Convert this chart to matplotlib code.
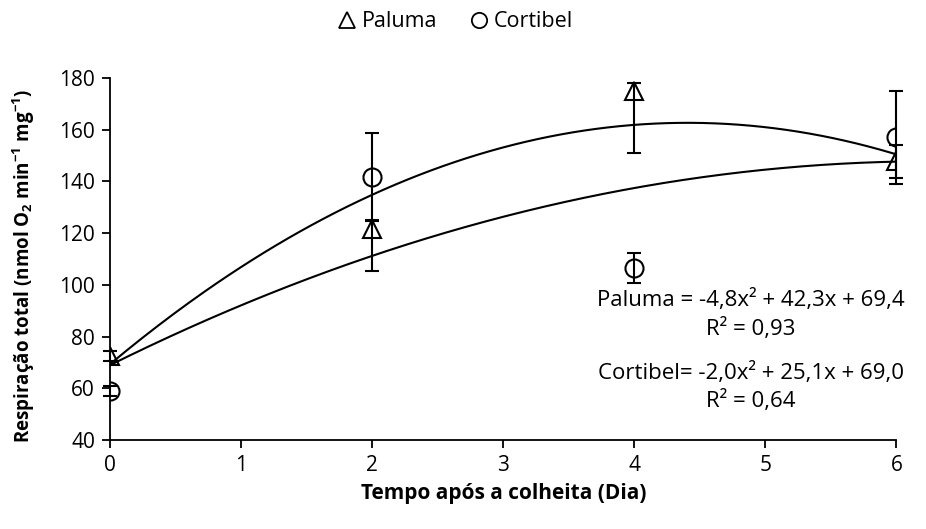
import numpy as np
import matplotlib.pyplot as plt
from matplotlib.lines import Line2D

plt.rcParams['font.family'] = ['Open Sans', 'DejaVu Sans']
plt.rcParams['mathtext.fontset'] = 'custom'
plt.rcParams['mathtext.rm'] = 'Open Sans'
plt.rcParams['mathtext.bf'] = 'Open Sans:bold'

dias = [0, 2, 4, 6]

paluma = [72.5, 121.5, 175.0, 147.7]
paluma_err_baixo = [2.0, 16.0, 24.0, 6.3]
paluma_err_cima = [2.0, 3.5, 3.0, 6.3]

cortibel = [59.0, 141.5, 106.5, 157.0]
cortibel_err = [2.0, 17.0, 5.7, 18.0]

# coeficientes das linhas de tendencia (a, b, c) -> a*x^2 + b*x + c
coef_sup = [-4.8, 42.3, 69.4]
coef_inf = [-2.0, 25.1, 69.0]

fs = 15

fig = plt.figure(figsize=(9.26, 5.29), dpi=100)
ax = fig.add_axes([0.119, 0.168, 0.849, 0.685])

x = np.linspace(0, 6, 200)
ax.plot(x, np.polyval(coef_sup, x), color='black', lw=1.5, zorder=2)
ax.plot(x, np.polyval(coef_inf, x), color='black', lw=1.5, zorder=2)

for y, err, mk in [(paluma, [paluma_err_baixo, paluma_err_cima], '^'),
                   (cortibel, cortibel_err, 'o')]:
    _, caps, bars = ax.errorbar(dias, y, yerr=err, fmt=mk, ms=13,
                                mfc='none', mec='black', mew=1.5, ecolor='black',
                                elinewidth=1.5, capsize=5, capthick=1.5, zorder=3)
    for a in ax.lines[-1:] + list(caps) + list(bars):
        a.set_clip_on(False)

ax.set_xlim(0, 6)
ax.set_ylim(40, 180)
ax.set_xticks(range(0, 7))
ax.set_yticks(range(40, 181, 20))
ax.tick_params(labelsize=fs, width=1.3, length=6, direction='out', pad=5)
ax.spines['top'].set_visible(False)
ax.spines['right'].set_visible(False)
ax.spines['left'].set_linewidth(1.3)
ax.spines['bottom'].set_linewidth(1.3)

ax.set_xlabel('Tempo após a colheita (Dia)', fontsize=fs, fontweight='bold', labelpad=5)
ax.set_ylabel(r'Respiração total (nmol O$_\mathbf{2}$ min$^\mathbf{-1}$ mg$^\mathbf{-1}$)',
              fontsize=13.5, fontweight='bold')
ax.yaxis.set_label_coords(-0.093, 0.48)

ax.text(4.89, 94.2, 'Paluma = -4,8x² + 42,3x + 69,4', fontsize=16, ha='center', va='center')
ax.text(4.89, 82.9, 'R² = 0,93', fontsize=16, ha='center', va='center')
ax.text(4.89, 65.9, 'Cortibel= -2,0x² + 25,1x + 69,0', fontsize=16, ha='center', va='center')
ax.text(4.89, 55.1, 'R² = 0,64', fontsize=16, ha='center', va='center')

handles = [Line2D([], [], marker='^', ls='none', ms=11, mfc='white', mec='black', mew=1.3),
           Line2D([], [], marker='o', ls='none', ms=11, mfc='white', mec='black', mew=1.3)]
fig.legend(handles, ['Paluma', 'Cortibel'], loc='upper center', bbox_to_anchor=(0.49, 1.015),
           ncol=2, frameon=False, fontsize=15.5, handletextpad=0.1, columnspacing=1.3,
           handlelength=1.2)

fig.savefig('out.png', dpi=100)
